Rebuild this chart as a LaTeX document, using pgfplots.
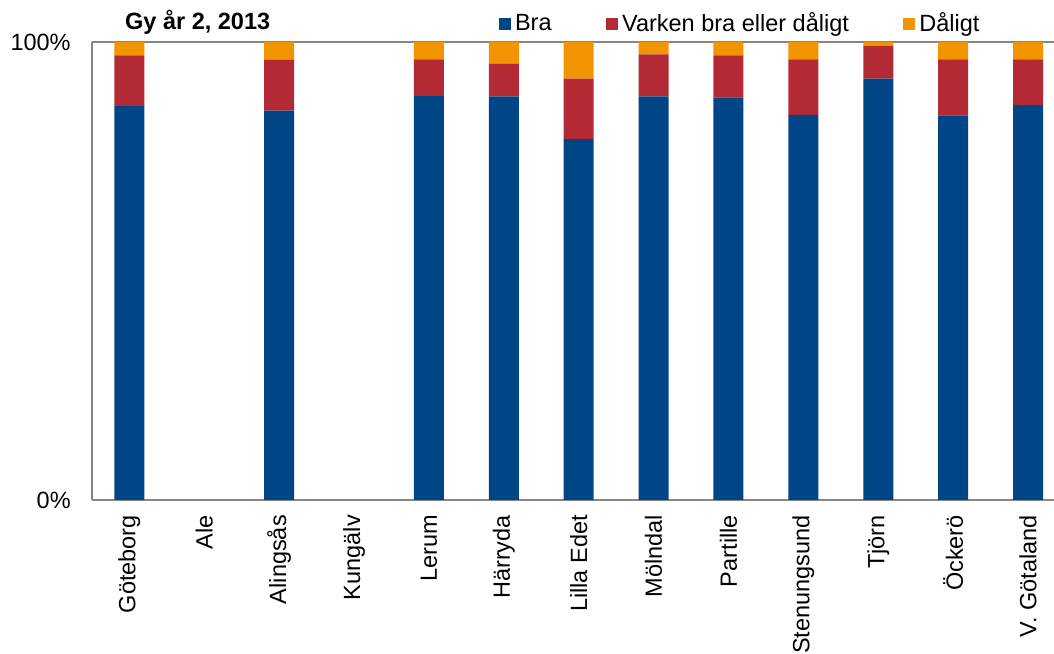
\documentclass[border=0pt]{standalone}
\usepackage{fontspec}
\setmainfont{Liberation Sans}
\usepackage{pgfplots}
\pgfplotsset{compat=1.18}
\definecolor{cblue}{RGB}{0,70,134}
\definecolor{cred}{RGB}{179,41,52}
\definecolor{corange}{RGB}{242,148,0}
\definecolor{axgray}{RGB}{134,134,134}
\begin{document}
\begin{tikzpicture}
\begin{axis}[
  at={(91.85bp,154bp)}, anchor=south west,
  scale only axis, width=962.15bp, height=458bp,
  xmin=-0.5, xmax=12.346, ymin=0, ymax=100,
  ybar stacked, bar width=30bp,
  axis x line*=box, axis y line*=left,
  axis line style={axgray, line width=2bp},
  major tick length=0pt,
  xtick={0,...,12},
  xticklabels={Göteborg,Ale,Alingsås,Kungälv,Lerum,Härryda,Lilla Edet,Mölndal,Partille,Stenungsund,Tjörn,Öckerö,V. Götaland},
  xticklabel style={rotate=90, anchor=east, inner sep=0pt, font=\fontsize{23.5bp}{28bp}\selectfont},
  xticklabel shift=15bp,
  ytick={0,100}, yticklabels={0\%,100\%},
  yticklabel style={anchor=east, inner sep=0pt, font=\fontsize{23.5bp}{28bp}\selectfont},
  yticklabel shift=21bp,
  title={Gy år 2, 2013},
  title style={font=\bfseries\fontsize{23.5bp}{28bp}\selectfont, at={(axis description cs:0.110,1.0142)}, anchor=base, inner sep=0pt},
  legend columns=3,
  legend style={draw=none, fill=none, font=\fontsize{23.5bp}{28bp}\selectfont,
    at={(axis description cs:0.6726,1.041)}, anchor=center,
    nodes={inner sep=0pt},
    /tikz/every odd column/.append style={column sep=4bp},
    /tikz/every even column/.append style={column sep=54bp}},
  legend image code/.code={\fill[#1] (0bp,-7bp) rectangle (12.5bp,5.5bp);},
]
\addplot[fill=cblue, draw=none] coordinates {(0,86.0) (2,85.0) (4,88.2) (5,88.1) (6,78.8) (7,88.1) (8,87.9) (9,84.1) (10,92.0) (11,84.0) (12,86.2)};
\addplot[fill=cred, draw=none] coordinates {(0,11.1) (2,11.1) (4,8.0) (5,7.1) (6,13.2) (7,9.2) (8,9.2) (9,12.1) (10,7.2) (11,12.2) (12,10.0)};
\addplot[fill=corange, draw=none] coordinates {(0,2.9) (2,3.9) (4,3.8) (5,4.8) (6,8.0) (7,2.7) (8,2.9) (9,3.8) (10,0.8) (11,3.8) (12,3.8)};
\legend{Bra,Varken bra eller dåligt,Dåligt}
\end{axis}
\pgfresetboundingbox
\path[use as bounding box] (0,0) rectangle (1054bp,654bp);
\end{tikzpicture}
\end{document}
